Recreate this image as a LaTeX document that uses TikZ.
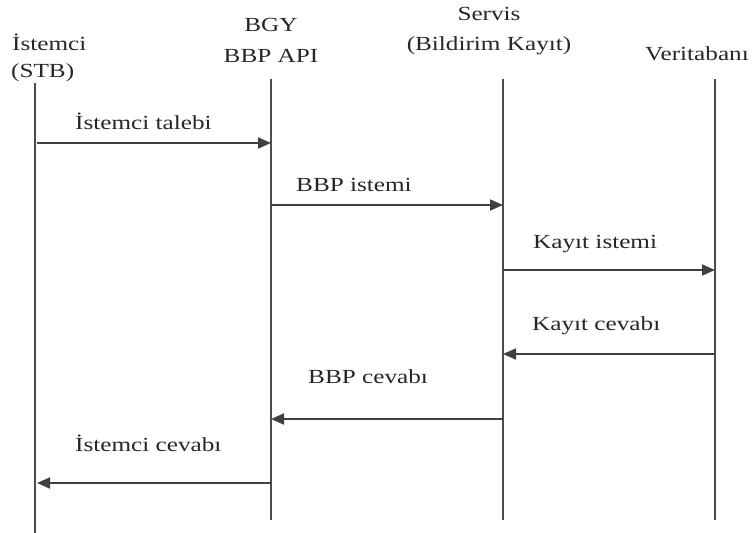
\documentclass[tikz,border=0pt]{standalone}
\usepackage{fontspec}
\setmainfont{Liberation Serif}[FakeStretch=1.26]
\usetikzlibrary{arrows.meta}
\begin{document}
\begin{tikzpicture}[x=1pt,y=-1pt,
  lbl/.style={font=\fontsize{20}{24}\selectfont, inner sep=0pt, text=black!85},
  life/.style={draw=black!70, line width=1.8pt},
  msg/.style={draw=black!75, line width=1.8pt, -{Triangle[length=13pt,width=11pt]}}]
\useasboundingbox (0,0) rectangle (756,533);
% headers
\node[lbl, anchor=west] (h1a) at (12,42) {İstemci};
\node[lbl, anchor=west] (h1b) at (11,73) {(STB)};
\node[lbl] (h2a) at (271,25) {BGY};
\node[lbl] (h2b) at (271,56) {BBP API};
\node[lbl] (h3a) at (489,14) {Servis};
\node[lbl] (h3b) at (489,46) {(Bildirim Kayıt)};
\node[lbl, anchor=west] (h4) at (645,54) {Veritabanı};
% lifelines
\coordinate (t1) at (35,83); \coordinate (b1) at (35,533);
\coordinate (t2) at (271,79); \coordinate (b2) at (271,520);
\coordinate (t3) at (503,79); \coordinate (b3) at (503,520);
\coordinate (t4) at (715,79); \coordinate (b4) at (715,520);
\draw[life] (t1) -- (b1);
\draw[life] (t2) -- (b2);
\draw[life] (t3) -- (b3);
\draw[life] (t4) -- (b4);
% messages
\coordinate (m1s) at (37,143); \coordinate (m1e) at (271,143);
\coordinate (m2s) at (271,205); \coordinate (m2e) at (503,205);
\coordinate (m3s) at (503,270); \coordinate (m3e) at (715,270);
\coordinate (m4s) at (715,354); \coordinate (m4e) at (503,354);
\coordinate (m5s) at (503,419); \coordinate (m5e) at (271,419);
\coordinate (m6s) at (271,483); \coordinate (m6e) at (37,483);
\draw[msg] (m1s) -- (m1e);
\draw[msg] (m2s) -- (m2e);
\draw[msg] (m3s) -- (m3e);
\draw[msg] (m4s) -- (m4e);
\draw[msg] (m5s) -- (m5e);
\draw[msg] (m6s) -- (m6e);
% labels
\node[lbl, anchor=west] (l1) at (75,121) {İstemci talebi};
\node[lbl, anchor=west] (l2) at (296,185) {BBP istemi};
\node[lbl, anchor=west] (l3) at (533,244) {Kayıt istemi};
\node[lbl, anchor=west] (l4) at (532,326) {Kayıt cevabı};
\node[lbl, anchor=west] (l5) at (308,377) {BBP cevabı};
\node[lbl, anchor=west] (l6) at (75,443) {İstemci cevabı};
\end{tikzpicture}
\end{document}
